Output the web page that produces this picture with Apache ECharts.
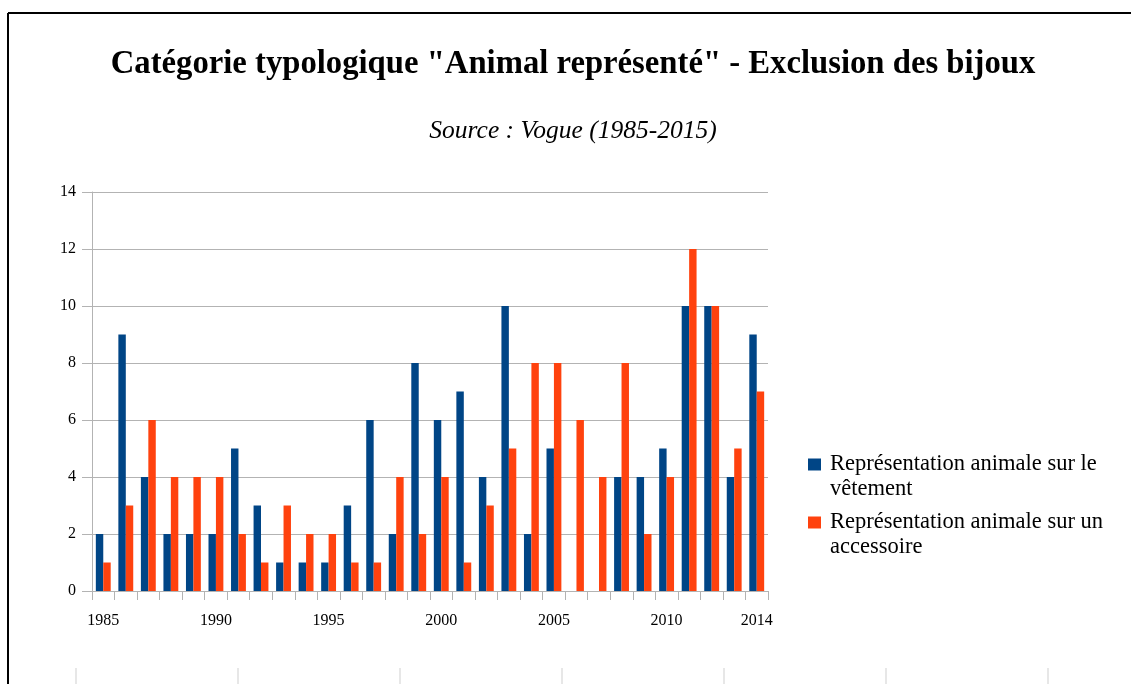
<!DOCTYPE html>
<html>
<head>
<meta charset="utf-8">
<script src="https://cdn.jsdelivr.net/npm/echarts@6/dist/echarts.min.js"></script>
<style>
  html, body { margin: 0; padding: 0; background: #fff; }
  #chart { width: 1131px; height: 684px; }
</style>
</head>
<body>
<div id="chart"></div>
<script>
const years = ['1985', '1986', '1987', '1988', '1989', '1990', '1991', '1992', '1993', '1994',
  '1995', '1996', '1997', '1998', '1999', '2000', '2001', '2002', '2003', '2004',
  '2005', '2006', '2007', '2008', '2009', '2010', '2011', '2012', '2013', '2014']
const vetement = [2, 9, 4, 2, 2, 2, 5, 3, 1, 1, 1, 3, 6, 2, 8, 6, 7, 4, 10, 2, 5, 0, 0, 4, 4, 5, 10, 10, 4, 9]
const accessoire = [1, 3, 6, 4, 4, 4, 2, 1, 3, 2, 2, 1, 1, 4, 2, 4, 1, 3, 5, 8, 8, 6, 4, 8, 2, 4, 12, 10, 5, 7]
const shownYears = ['1985', '1990', '1995', '2000', '2005', '2010', '2014']

const serif = '"Liberation Serif", "Times New Roman", serif'
const grey = '#b3b3b3'

const chart = echarts.init(document.getElementById('chart'))

// decorative sheet frame and column marks below the chart
const deco = [
  { type: 'line', shape: { x1: 8, y1: 13, x2: 1131, y2: 13 }, style: { stroke: '#000', lineWidth: 2 } },
  { type: 'line', shape: { x1: 8, y1: 13, x2: 8, y2: 684 }, style: { stroke: '#000', lineWidth: 2 } }
]
;[76, 238, 400, 562, 724, 886, 1048].forEach((x) => {
  deco.push({ type: 'line', shape: { x1: x, y1: 668, x2: x, y2: 684 }, style: { stroke: '#cfcfcf', lineWidth: 1 } })
})

const option = {
  animation: false,
  title: [
    {
      text: 'Catégorie typologique "Animal représenté" - Exclusion des bijoux',
      left: 568,
      top: 43,
      textAlign: 'center',
      textStyle: { fontFamily: serif, fontSize: 32.7, fontWeight: 'bold', color: '#000' }
    },
    {
      text: 'Source : Vogue (1985-2015)',
      left: 568,
      top: 113,
      textAlign: 'center',
      textStyle: { fontFamily: serif, fontSize: 25.5, fontStyle: 'italic', fontWeight: 'normal', color: '#000' }
    }
  ],
  legend: {
    orient: 'vertical',
    left: 808,
    top: 427,
    padding: 0,
    itemWidth: 13,
    itemHeight: 12,
    itemGap: -17,
    icon: 'rect',
    textStyle: { fontFamily: serif, fontSize: 22.5, color: '#000', lineHeight: 25, padding: [0, 0, 0, 4] },
    // blank first line keeps the square level with the first text line
    formatter: (name) => '\n' + name.replace(/ (vêtement|accessoire)$/, '\n$1')
  },
  grid: { left: 92, right: 363, top: 192, bottom: 93 },
  xAxis: {
    type: 'category',
    data: years,
    axisLine: { lineStyle: { color: grey } },
    axisTick: { show: true, interval: 0, length: 9, lineStyle: { color: grey } },
    axisLabel: {
      interval: (i, v) => shownYears.includes(v),
      margin: 22,
      fontFamily: serif,
      fontSize: 16,
      color: '#000'
    },
    splitLine: { show: false }
  },
  yAxis: {
    type: 'value',
    min: 0,
    max: 14,
    interval: 2,
    axisLine: { show: true, lineStyle: { color: grey } },
    axisTick: { show: true, length: 10, lineStyle: { color: grey } },
    axisLabel: { margin: 16, fontFamily: serif, fontSize: 16, color: '#000' },
    splitLine: { lineStyle: { color: grey } }
  },
  series: [
    {
      name: 'Représentation animale sur le vêtement',
      type: 'bar',
      data: vetement,
      barGap: '0%',
      barCategoryGap: '34%',
      itemStyle: { color: '#004586' }
    },
    {
      name: 'Représentation animale sur un accessoire',
      type: 'bar',
      data: accessoire,
      itemStyle: { color: '#ff420e' }
    }
  ],
  graphic: deco
}
chart.setOption(option)
</script>
</body>
</html>
